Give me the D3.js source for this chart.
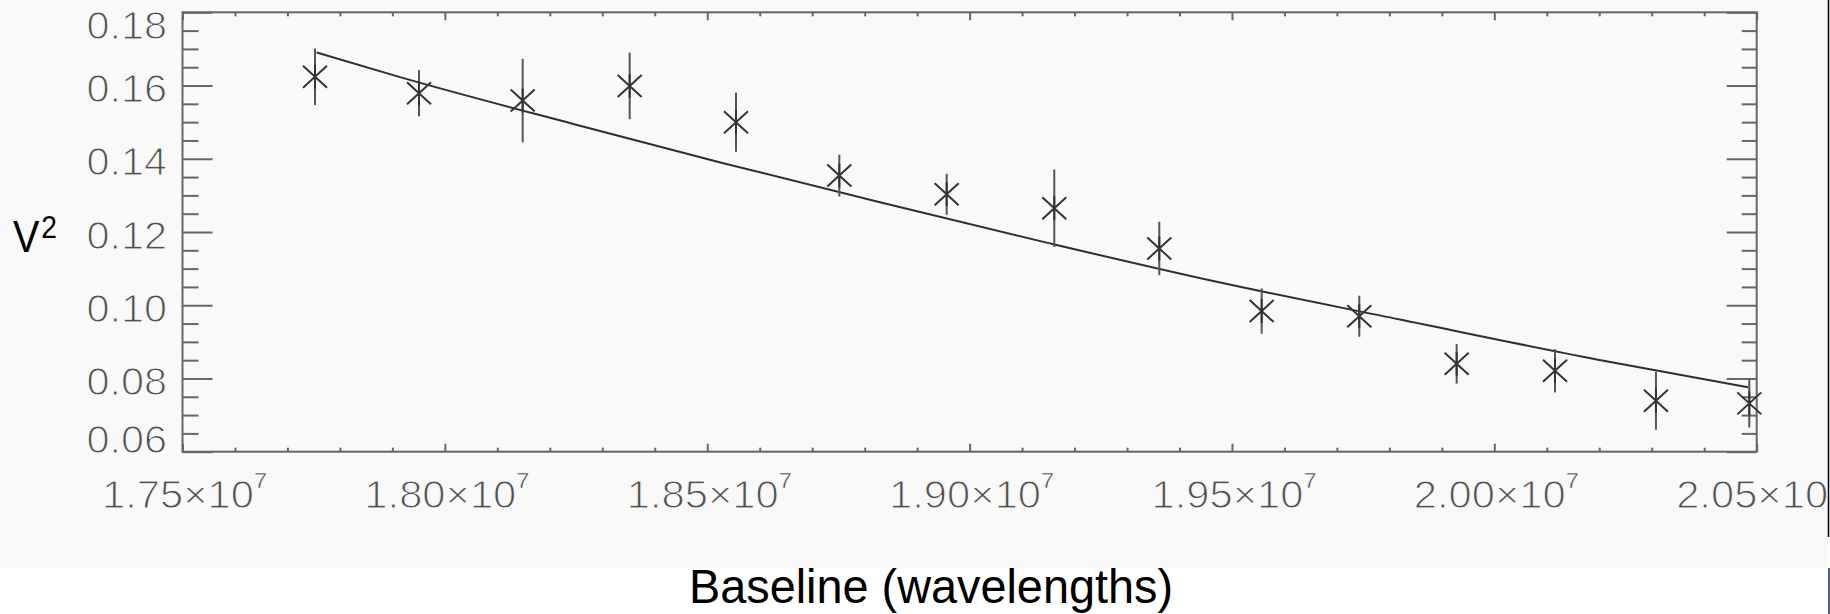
<!DOCTYPE html>
<html>
<head>
<meta charset="utf-8">
<script src="https://cdn.jsdelivr.net/npm/d3@7"></script>
<style>
  html, body { margin: 0; padding: 0; background: #ffffff; }
  svg { display: block; }
</style>
</head>
<body>
<svg id="chart" width="1830" height="614"></svg>
<script>
// Squared visibility versus projected baseline, with a model curve.
const baselines = [17752500, 17950700, 18148300, 18352200, 18554800, 18751700, 18956300,
                   19161400, 19361500, 19556600, 19742600, 19928200, 20115600, 20308000, 20485900];
const vis2 = [0.1624, 0.1579, 0.1559, 0.1599, 0.1500, 0.1354, 0.1303,
              0.1265, 0.1155, 0.0984, 0.0970, 0.0840, 0.0821, 0.0739, 0.0732];
const vis2Err = [0.0077, 0.0063, 0.0114, 0.0091, 0.0081, 0.0057, 0.0056,
                 0.0106, 0.0073, 0.0062, 0.0056, 0.0054, 0.0059, 0.0079, 0.0066];

const modelBaseline = [17755700, 17914500, 18244700, 18530600, 18829200,
                       19146900, 19470900, 19820200, 20195000, 20483900];
const modelVis2 = [0.1690, 0.1623, 0.1495, 0.1388, 0.1281,
                   0.1171, 0.1064, 0.0961, 0.0852, 0.0776];

const xTickValues = [1.75e7, 1.80e7, 1.85e7, 1.90e7, 1.95e7, 2.00e7, 2.05e7];
const xTickLabels = ["1.75×10", "1.80×10", "1.85×10", "1.90×10", "1.95×10", "2.00×10", "2.05×10"];
const xTickExponent = "7";
const yTickValues = [0.06, 0.08, 0.10, 0.12, 0.14, 0.16, 0.18];
const yTickLabels = ["0.06", "0.08", "0.10", "0.12", "0.14", "0.16", "0.18"];

const svg = d3.select("#chart");
const plot = { left: 182.5, right: 1756.7, top: 12.3, bottom: 451.7 };
const panelFill = "#f9f9f9";

const x = d3.scaleLinear().domain([1.75e7, 2.05e7]).range([plot.left, plot.right]);
const y = d3.scaleLinear().domain([0.06, 0.18]).range([plot.bottom, plot.top]);

// Image panel (light grey, cropped on the right)
svg.append("defs").append("clipPath").attr("id", "panel")
  .append("rect").attr("x", 0).attr("y", 0).attr("width", 1828).attr("height", 567.7);

const g = svg.append("g").attr("clip-path", "url(#panel)");
g.append("rect").attr("x", 0).attr("y", 0).attr("width", 1828).attr("height", 567.7)
  .attr("fill", panelFill);

// Tick marks on all four sides, pointing inward
const xMinor = d3.range(175, 206, 1).map(d => d * 1e5).filter(v => !xTickValues.some(t => Math.abs(t - v) < 1));
const yMinor = d3.range(12, 37, 1).map(d => d * 0.005).filter(v => !yTickValues.some(t => Math.abs(t - v) < 1e-9));

function tickAxis(axis, transform) {
  const a = g.append("g").attr("transform", transform).call(axis);
  a.select(".domain").remove();
  a.selectAll("text").remove();
  a.selectAll("line").attr("stroke", "#666").attr("stroke-width", 2);
  return a;
}
tickAxis(d3.axisBottom(x).tickValues(xMinor).tickSize(-4), `translate(0,${plot.bottom})`);
tickAxis(d3.axisBottom(x).tickValues(xTickValues).tickSize(-8), `translate(0,${plot.bottom})`);
tickAxis(d3.axisTop(x).tickValues(xMinor).tickSize(-4), `translate(0,${plot.top})`);
tickAxis(d3.axisTop(x).tickValues(xTickValues).tickSize(-8), `translate(0,${plot.top})`);
tickAxis(d3.axisLeft(y).tickValues(yMinor).tickSize(-16), `translate(${plot.left},0)`);
tickAxis(d3.axisLeft(y).tickValues(yTickValues).tickSize(-30), `translate(${plot.left},0)`);
tickAxis(d3.axisRight(y).tickValues(yMinor).tickSize(-15), `translate(${plot.right},0)`);
tickAxis(d3.axisRight(y).tickValues(yTickValues).tickSize(-30), `translate(${plot.right},0)`);

// Frame
g.append("rect")
  .attr("x", plot.left).attr("y", plot.top)
  .attr("width", plot.right - plot.left).attr("height", plot.bottom - plot.top)
  .attr("fill", "none").attr("stroke", "#666").attr("stroke-width", 2);

// Tick labels use a thin grey face: a panel-coloured outline slims the glyphs
function thinText(sel) {
  sel.attr("font-family", "'Liberation Sans', Arial, sans-serif")
    .attr("fill", "#505050")
    .attr("stroke", panelFill)
    .attr("stroke-width", 1.1);
}

// Y tick labels
g.append("g").selectAll("text").data(yTickValues).join("text")
  .attr("transform", d => {
    const by = Math.min(Math.max(y(d) + 16.6, 39.3), 452.7);
    return `translate(167,${by}) scale(1.09,1)`;
  })
  .attr("text-anchor", "end")
  .attr("font-size", 38)
  .call(thinText)
  .text((d, i) => yTickLabels[i]);

// X tick labels with exponent
const xl = g.append("g").selectAll("text").data(xTickValues).join("text")
  .attr("transform", d => `translate(${x(d) + 2},508.3) scale(1.07,1)`)
  .attr("text-anchor", "middle")
  .attr("font-size", 39)
  .call(thinText);
xl.append("tspan").text((d, i) => xTickLabels[i]);
xl.append("tspan").attr("font-size", 22).attr("dy", -20)
  .attr("stroke-width", 0.5).attr("fill", "#444").text(xTickExponent);

// Model curve
const line = d3.line().x((d, i) => x(modelBaseline[i])).y(d => y(d)).curve(d3.curveMonotoneX);
g.append("path").datum(modelVis2)
  .attr("d", line)
  .attr("fill", "none").attr("stroke", "#2e2e2e").attr("stroke-width", 2);

// Error bars
g.append("g").selectAll("line").data(vis2).join("line")
  .attr("x1", (d, i) => x(baselines[i])).attr("x2", (d, i) => x(baselines[i]))
  .attr("y1", (d, i) => y(d - vis2Err[i])).attr("y2", (d, i) => y(d + vis2Err[i]))
  .attr("stroke", "#555").attr("stroke-width", 2);

// Asterisk markers
g.append("g").selectAll("path").data(vis2).join("path")
  .attr("transform", (d, i) => `translate(${x(baselines[i])},${y(d)})`)
  .attr("d", "M-12,-11L12,11M-12,11L12,-11M0,-12L0,12")
  .attr("fill", "none").attr("stroke", "#333").attr("stroke-width", 2);

// Axis titles
svg.append("text")
  .attr("transform", "translate(13,251.7) scale(0.88,1)")
  .attr("font-family", "'Liberation Sans', Arial, sans-serif")
  .attr("font-size", 45)
  .attr("fill", "#000")
  .call(t => {
    t.append("tspan").text("V");
    t.append("tspan").attr("font-size", 32).attr("dy", -13.7).attr("dx", 2).text("2");
  });

svg.append("text")
  .attr("x", 931).attr("y", 603)
  .attr("text-anchor", "middle")
  .attr("font-family", "'Liberation Sans', Arial, sans-serif")
  .attr("font-size", 48)
  .attr("textLength", 484)
  .attr("lengthAdjust", "spacingAndGlyphs")
  .attr("fill", "#000")
  .text("Baseline (wavelengths)");

// Right-hand edge rules
svg.append("line").attr("x1", 1828.5).attr("x2", 1828.5).attr("y1", 0).attr("y2", 537)
  .attr("stroke", "#000").attr("stroke-width", 1.5);
svg.append("line").attr("x1", 1829).attr("x2", 1829).attr("y1", 568).attr("y2", 614)
  .attr("stroke", "#23236e").attr("stroke-width", 1.5);
</script>
</body>
</html>
